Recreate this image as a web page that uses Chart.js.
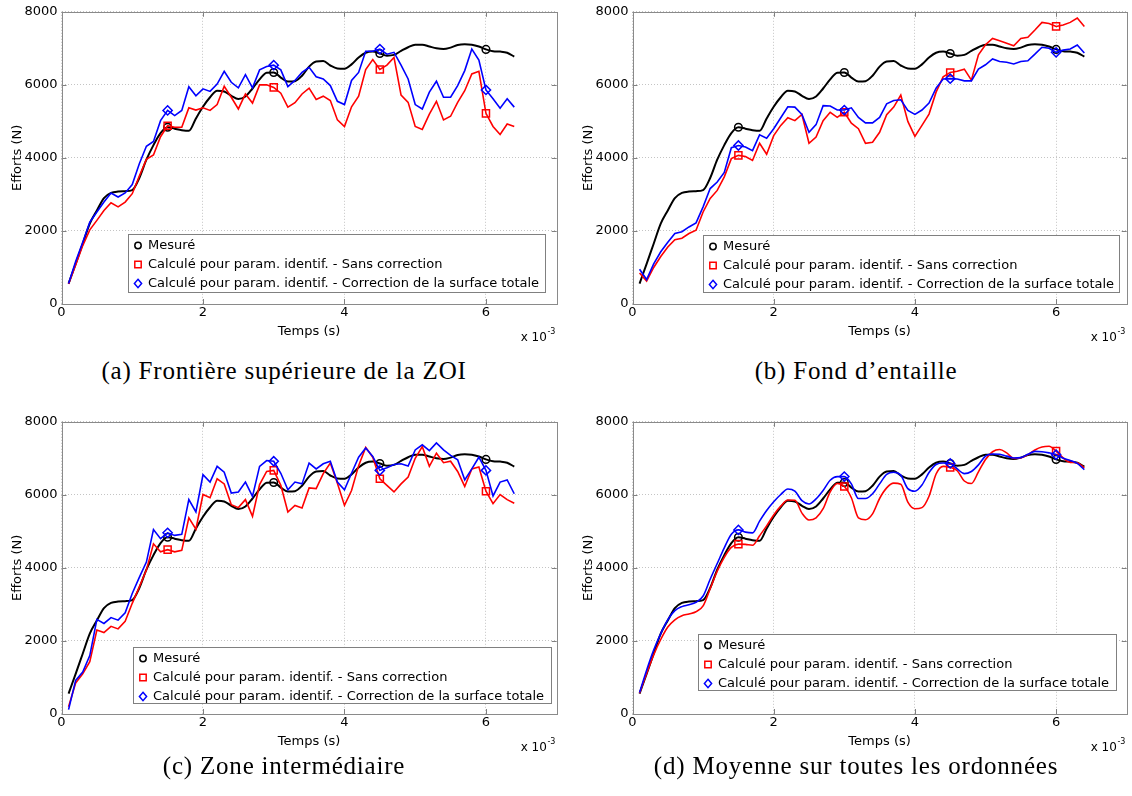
<!DOCTYPE html>
<html>
<head>
<meta charset="utf-8">
<script src="https://cdn.jsdelivr.net/npm/chart.js@4.4.0/dist/chart.umd.min.js"></script>
<style>
    body { margin: 0; background: #fff; }
    #page { position: relative; width: 1132px; height: 796px; overflow: hidden; background: #fff; }
    canvas { position: absolute; }
    .legende-fig {
        position: absolute;
        font-family: "Liberation Serif", "DejaVu Serif", serif;
        font-size: 25px;
        letter-spacing: 0.8px;
        white-space: nowrap;
        transform: translate(-50%, -50%);
        color: #000;
    }
</style>
</head>
<body>
<div id="page">
    <canvas id="chartA" width="566" height="345" style="left:0;top:0"></canvas>
    <canvas id="chartB" width="561" height="345" style="left:571px;top:0"></canvas>
    <canvas id="chartC" width="566" height="345" style="left:0;top:410px"></canvas>
    <canvas id="chartD" width="561" height="345" style="left:571px;top:410px"></canvas>
    <div class="legende-fig" style="left:284px;top:371px">(a) Frontière supérieure de la ZOI</div>
    <div class="legende-fig" style="left:856px;top:371px">(b) Fond d’entaille</div>
    <div class="legende-fig" style="left:284px;top:766px">(c) Zone intermédiaire</div>
    <div class="legende-fig" style="left:856px;top:766px">(d) Moyenne sur toutes les ordonnées</div>
</div>
<script>
// temps en ms (affiché x 10^-3 s)
const temps = [
    0.1, 0.2, 0.3, 0.4, 0.5, 0.6, 0.7, 0.8, 0.9, 1.0,
    1.1, 1.2, 1.3, 1.4, 1.5, 1.6, 1.7, 1.8, 1.9, 2.0,
    2.1, 2.2, 2.3, 2.4, 2.5, 2.6, 2.7, 2.8, 2.9, 3.0,
    3.1, 3.2, 3.3, 3.4, 3.5, 3.6, 3.7, 3.8, 3.9, 4.0,
    4.1, 4.2, 4.3, 4.4, 4.5, 4.6, 4.7, 4.8, 4.9, 5.0,
    5.1, 5.2, 5.3, 5.4, 5.5, 5.6, 5.7, 5.8, 5.9, 6.0,
    6.1, 6.2, 6.3, 6.4
];
const tempsMarqueurs = [1.5, 3.0, 4.5, 6.0];
const ticksX = [0, 2, 4, 6];
const ticksY = [0, 2000, 4000, 6000, 8000];
const libelles = [
    'Mesuré',
    'Calculé pour param. identif. - Sans correction',
    'Calculé pour param. identif. - Correction de la surface totale'
];

// effort mesuré (identique pour les 4 zones)
const mesure = [
    560, 1100, 1650, 2200, 2560, 2900, 3040, 3080, 3090, 3120,
    3450, 3950, 4350, 4680, 4840, 4800, 4760, 4740, 5080, 5400,
    5660, 5840, 5820, 5700, 5610, 5680, 5900, 6150, 6330, 6340,
    6200, 6090, 6100, 6250, 6500, 6640, 6650, 6530, 6450, 6440,
    6560, 6750, 6880, 6910, 6860, 6800, 6820, 6930, 7030, 7100,
    7100, 7050, 7000, 6980, 7020, 7090, 7110, 7100, 7050, 6970,
    6920, 6910, 6880, 6770
];

// (a) Frontière supérieure de la ZOI
const rougeA = [
    550, 1070, 1600, 2030, 2290, 2560, 2770, 2660, 2790, 3020,
    3500, 3960, 4080, 4580, 4880, 4840, 4840, 5370, 5310, 5370,
    5300, 5460, 5960, 5660, 5340, 5750, 5500, 6000, 6000, 5930,
    5770, 5390, 5510, 5750, 5910, 5600, 5690, 5570, 5040, 4860,
    5400, 5690, 6420, 6690, 6420, 6540, 6750, 5720, 5520, 4860,
    4780, 5200, 5550, 5040, 5140, 5520, 5840, 6300, 6370, 5220,
    4860, 4640, 4930, 4860
];
const bleuA = [
    560, 1160, 1690, 2240, 2520, 2790, 3040, 2930, 3040, 3270,
    3840, 4320, 4450, 5020, 5300, 5160, 5300, 5950, 5700, 5890,
    5820, 6020, 6370, 6070, 5920, 6280, 5920, 6410, 6500, 6540,
    6410, 5950, 6120, 6340, 6480, 6220, 6160, 5980, 5550, 5460,
    6120, 6340, 6920, 6920, 6980, 6840, 6890, 6540, 6160, 5460,
    5340, 5800, 6100, 5660, 5660, 5980, 6390, 6980, 6680, 5860,
    5620, 5360, 5620, 5390
];

// (b) Fond d'entaille
const rougeB = [
    850, 630, 1000, 1300, 1560, 1760, 1800, 1930, 2020, 2520,
    2890, 3110, 3480, 3980, 4070, 4040, 3930, 4400, 4100, 4610,
    4890, 5100, 5020, 5190, 4400, 4570, 5020, 5250, 5110, 5250,
    4950, 4800, 4400, 4430, 4700, 5180, 5390, 5720, 5000, 4590,
    4890, 5200, 5800, 6220, 6340, 6370, 6430, 6130, 6820, 7100,
    7270, 7210, 7140, 7070, 7270, 7300, 7500, 7710, 7680, 7600,
    7640, 7710, 7830, 7600
];
const bleuB = [
    950, 670, 1100, 1430, 1690, 1930, 1980, 2110, 2220, 2660,
    3160, 3340, 3600, 4280, 4340, 4300, 4200, 4630, 4540, 4800,
    5100, 5400, 5390, 5190, 4700, 4910, 5430, 5420, 5310, 5310,
    5370, 5110, 4960, 4960, 5110, 5480, 5570, 5590, 5300, 5190,
    5310, 5500, 5910, 6160, 6170, 6160, 6110, 6110, 6430, 6550,
    6710, 6640, 6620, 6570, 6640, 6660, 6840, 7030, 7000, 6890,
    6950, 6980, 7090, 6870
];

// (c) Zone intermédiaire
const rougeC = [
    200, 850, 1100, 1430, 2300, 2230, 2400, 2330, 2540, 3030,
    3480, 3940, 4660, 4440, 4500, 4440, 4480, 5370, 5060, 6010,
    5920, 6440, 6300, 5730, 5650, 5870, 5410, 6280, 6640, 6670,
    6260, 5530, 5710, 5640, 6190, 6170, 6580, 6870, 6320, 5710,
    6120, 6800, 7300, 7030, 6440, 6260, 6080, 6300, 6490, 7000,
    7320, 6780, 7140, 6880, 6920, 6640, 6230, 6710, 6760, 6100,
    5760, 6010, 5870, 5770
];
const bleuC = [
    120, 920, 1150, 1600, 2590, 2480, 2640, 2570, 2770, 3300,
    3740, 4160, 5050, 4800, 4960, 4890, 4920, 5870, 5530, 6550,
    6350, 6780, 6620, 6050, 6080, 6350, 5960, 6780, 6940, 6920,
    6590, 6140, 6350, 6300, 6870, 6710, 6850, 6920, 6350, 6140,
    6590, 7030, 7280, 7050, 6670, 6740, 6830, 6850, 6790, 7230,
    7370, 7210, 7420, 7230, 7080, 6960, 6410, 6710, 7030, 6670,
    5970, 6350, 6410, 6030
];

// (d) Moyenne sur toutes les ordonnées
const rougeD = [
    570, 1110, 1620, 2040, 2380, 2580, 2690, 2740, 2800, 2960,
    3430, 3910, 4290, 4560, 4650, 4645, 4620, 4880, 5150, 5450,
    5690, 5860, 5850, 5500, 5310, 5370, 5620, 6080, 6310, 6230,
    5920, 5370, 5320, 5480, 5900, 6190, 6320, 6290, 5800, 5620,
    5650, 5960, 6570, 6780, 6750, 6660, 6380, 6310, 6630, 6970,
    7180, 7240, 7150, 7000, 7010, 7100, 7230, 7310, 7330, 7200,
    7010, 6890, 6880, 6740
];
const bleuD = [
    590, 1200, 1750, 2200, 2580, 2830, 2940, 2990, 3060, 3230,
    3690, 4120, 4550, 4920, 5040, 4980, 4960, 5280, 5570, 5810,
    6010, 6160, 6100, 5840, 5750, 5890, 6120, 6400, 6500, 6500,
    6300, 5900, 5900, 6030, 6300, 6560, 6620, 6540, 6170, 6100,
    6270, 6610, 6830, 6870, 6860, 6710, 6580, 6640, 6820, 7060,
    7120, 7110, 7060, 7010, 7020, 7110, 7190, 7180, 7150, 7100,
    7000, 6940, 6860, 6690
];

const POLICE = '"DejaVu Sans", "Liberation Sans", Arial, sans-serif';
Chart.defaults.font.family = POLICE;
Chart.defaults.font.size = 13;
Chart.defaults.color = '#000';

/**
 * Dessine un marqueur creux (cercle, carré, losange)
 */
function dessinerMarqueur(ctx, style, x, y, couleur) {
    ctx.save();
    ctx.strokeStyle = couleur;
    ctx.lineWidth = 1.5;
    ctx.beginPath();
    if (style === 'circle') {
        ctx.arc(x, y, 3.2, 0, Math.PI * 2);
    } else if (style === 'rect') {
        ctx.rect(x - 3.2, y - 3.2, 6.4, 6.4);
    } else {
        ctx.moveTo(x, y - 4.2);
        ctx.lineTo(x + 3.6, y);
        ctx.lineTo(x, y + 4.2);
        ctx.lineTo(x - 3.6, y);
        ctx.closePath();
    }
    ctx.stroke();
    ctx.restore();
}

// cadre, petites graduations intérieures, "x 10^-3" et légende façon MATLAB
const pluginCadre = {
    id: 'cadreMatlab',
    afterDatasetsDraw(chart, args, opts) {
        const ctx = chart.ctx;
        const a = chart.chartArea;
        const sx = chart.scales.x;
        const sy = chart.scales.y;
        ctx.save();

        // graduations intérieures
        ctx.strokeStyle = '#808080';
        ctx.lineWidth = 1;
        ctx.beginPath();
        ticksX.forEach((v) => {
            const px = Math.round(sx.getPixelForValue(v)) + 0.5;
            ctx.moveTo(px, a.bottom); ctx.lineTo(px, a.bottom - 5);
            ctx.moveTo(px, a.top); ctx.lineTo(px, a.top + 5);
        });
        ticksY.forEach((v) => {
            const py = Math.round(sy.getPixelForValue(v)) + 0.5;
            ctx.moveTo(a.left, py); ctx.lineTo(a.left + 5, py);
            ctx.moveTo(a.right, py); ctx.lineTo(a.right - 5, py);
        });
        ctx.stroke();

        // cadre
        ctx.strokeStyle = '#8a8a8a';
        ctx.strokeRect(Math.round(a.left) + 0.5, Math.round(a.top) + 0.5,
            Math.round(a.right - a.left), Math.round(a.bottom - a.top));

        // facteur d'échelle
        ctx.fillStyle = '#000';
        ctx.font = '12px ' + POLICE;
        ctx.textBaseline = 'middle';
        ctx.textAlign = 'left';
        const ex = a.right - 36;
        const ey = a.bottom + 34;
        ctx.fillText('x 10', ex, ey);
        const w = ctx.measureText('x 10').width;
        ctx.font = '8px ' + POLICE;
        ctx.fillText('-3', ex + w + 0.5, ey - 6);

        // légende
        const b = opts.boite;
        ctx.fillStyle = '#fff';
        ctx.fillRect(b.x, b.y, b.w, b.h);
        ctx.strokeStyle = '#808080';
        ctx.strokeRect(b.x + 0.5, b.y + 0.5, b.w, b.h);
        ctx.font = '13px ' + POLICE;
        chart.data.datasets.forEach((ds, i) => {
            const y = b.y + 11.5 + i * 19;
            dessinerMarqueur(ctx, ds.pointStyle, b.x + 10, y, ds.borderColor);
            ctx.fillStyle = '#000';
            ctx.fillText(ds.label, b.x + 20, y + 0.5);
        });
        ctx.restore();
    },
};

function serie(valeurs) {
    return temps.map((t, i) => ({ x: t, y: valeurs[i] }));
}

function rayonMarqueur(r) {
    return (c) => (tempsMarqueurs.includes(temps[c.dataIndex]) ? r : 0);
}

/**
 * Crée un des quatre graphiques
 */
function creerGraphique(id, rouge, bleu, lisse, boite, padDroite) {
    const ctx = document.getElementById(id).getContext('2d');
    const base = {
        fill: false,
        pointBackgroundColor: 'rgba(0,0,0,0)',
        pointBorderWidth: 1.5,
        pointHoverRadius: 0,
    };
    return new Chart(ctx, {
        type: 'line',
        data: {
            datasets: [
                {
                    ...base,
                    label: libelles[0],
                    data: serie(mesure),
                    borderColor: '#000000',
                    pointBorderColor: '#000000',
                    borderWidth: 2,
                    cubicInterpolationMode: 'monotone',
                    pointStyle: 'circle',
                    pointRadius: rayonMarqueur(3.8),
                    order: 2,
                },
                {
                    ...base,
                    label: libelles[1],
                    data: serie(rouge),
                    borderColor: '#ff0000',
                    pointBorderColor: '#ff0000',
                    borderWidth: 1.6,
                    cubicInterpolationMode: lisse ? 'monotone' : 'default',
                    tension: 0,
                    pointStyle: 'rect',
                    pointRadius: rayonMarqueur(5),
                    order: 1,
                },
                {
                    ...base,
                    label: libelles[2],
                    data: serie(bleu),
                    borderColor: '#0000ff',
                    pointBorderColor: '#0000ff',
                    borderWidth: 1.6,
                    cubicInterpolationMode: lisse ? 'monotone' : 'default',
                    tension: 0,
                    pointStyle: 'rectRot',
                    pointRadius: rayonMarqueur(4.6),
                    order: 0,
                },
            ],
        },
        options: {
            responsive: false,
            animation: false,
            events: [],
            layout: { padding: { top: 11, right: padDroite, left: 0, bottom: 0 } },
            scales: {
                x: {
                    type: 'linear',
                    min: 0,
                    max: 7,
                    afterBuildTicks: (s) => { s.ticks = ticksX.map((v) => ({ value: v })); },
                    afterFit: (s) => { s.height = 41; },
                    ticks: { padding: 1, font: { size: 13 }, maxRotation: 0, callback: (v) => String(v) },
                    grid: { color: '#c4c4c4', drawTicks: false, lineWidth: 1 },
                    border: { display: false, dash: [1, 2] },
                    title: { display: true, text: 'Temps (s)', font: { size: 13 }, padding: { top: 0, bottom: 6 } },
                },
                y: {
                    min: 0,
                    max: 8000,
                    afterBuildTicks: (s) => { s.ticks = ticksY.map((v) => ({ value: v })); },
                    afterFit: (s) => { s.width = 61.5; },
                    ticks: { padding: 4, font: { size: 13 }, callback: (v) => String(v) },
                    grid: { color: '#c4c4c4', drawTicks: false, lineWidth: 1 },
                    border: { display: false, dash: [1, 2] },
                    title: { display: true, text: 'Efforts (N)', font: { size: 13 }, padding: { top: 10, bottom: 0 } },
                },
            },
            plugins: {
                legend: { display: false },
                tooltip: { enabled: false },
                cadreMatlab: { boite: boite },
            },
        },
        plugins: [pluginCadre],
    });
}

creerGraphique('chartA', rougeA, bleuA, false, { x: 128, y: 234, w: 417, h: 58 }, 9.3);
creerGraphique('chartB', rougeB, bleuB, false, { x: 132, y: 235, w: 416, h: 57 }, 5.3);
creerGraphique('chartC', rougeC, bleuC, false, { x: 133, y: 237, w: 418, h: 56 }, 9.3);
creerGraphique('chartD', rougeD, bleuD, true, { x: 127, y: 224, w: 418, h: 56 }, 5.3);
</script>
</body>
</html>
